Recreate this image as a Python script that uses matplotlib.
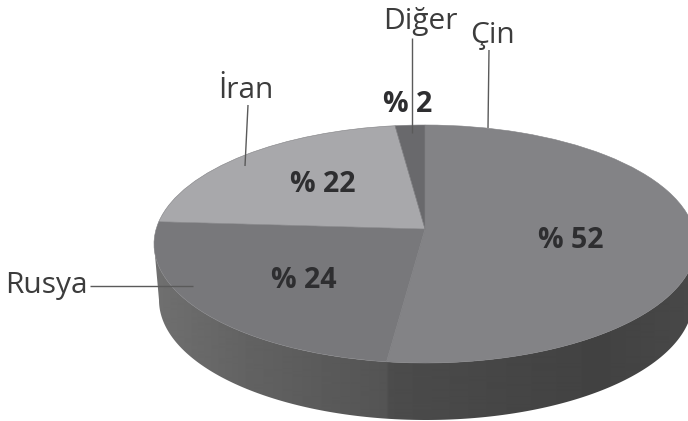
import numpy as np
import matplotlib
matplotlib.use("Agg")
import matplotlib.pyplot as plt
from matplotlib.transforms import Transform, Affine2D
from matplotlib.patches import Polygon

categories = ["Çin", "Rusya", "İran", "Diğer"]
values = [52, 24, 22, 2]
pct_labels = ["% 52", "% 24", "% 22", "% 2"]

top_colors = ["#838386", "#78787b", "#a8a8ab", "#69696c"]
TEXT = "#3c3c3c"
BOLD = "#2e2e30"
LINE = "#5a5a5a"

W, H = 688, 421
cx, cy, rx, ry = 425, 244, 271, 119
bx, by, brx, bry = 426, 300, 267, 120
a = 15 / 119  # perspective shift of the pie centre


class Persp(Transform):
    input_dims = output_dims = 2
    is_affine = False

    def transform_non_affine(self, xy):
        xy = np.asarray(xy, float)
        X, Y = xy[:, 0], xy[:, 1]
        d = 1 + a * Y
        return np.column_stack([X * np.sqrt(1 - a * a) / d, (Y + a) / d])


plt.rcParams["font.family"] = ["Open Sans", "DejaVu Sans"]
fig = plt.figure(figsize=(W / 100, H / 100), dpi=100, facecolor="white")
ax = fig.add_axes([0, 0, 1, 1])

wedges, _ = ax.pie(values, startangle=90, counterclock=False, radius=1,
                   center=(0, 0), colors=top_colors,
                   wedgeprops=dict(linewidth=0.4, edgecolor="#808083"))
ax.set_aspect("auto")
ax.set_xlim(0, W)
ax.set_ylim(H, 0)
ax.axis("off")

base = Affine2D().scale(rx, -ry).translate(cx, cy) + ax.transData
for w in wedges:
    w.set_transform(Persp() + base)
    w.set_zorder(3)

# side wall: horizontal grey gradient clipped to the rim outline
t = np.linspace(np.pi, 0, 200)
upper = np.column_stack([cx + rx * np.cos(t), cy + ry * np.sin(t)])
lower = np.column_stack([bx + brx * np.cos(t[::-1]), by + bry * np.sin(t[::-1])])
rim = Polygon(np.vstack([upper, lower]), closed=True, facecolor="none",
              edgecolor="none", transform=ax.transData)
ax.add_patch(rim)
stops_x = [154, 250, 386, 389, 500, 600, 688]
stops_g = [112, 98, 84, 76, 70, 66, 72]
grad = np.interp(np.arange(W), stops_x, stops_g)[None, :]
im = ax.imshow(grad, extent=(0, W, H, 0), cmap="gray", vmin=0, vmax=255,
               aspect="auto", zorder=2, interpolation="bilinear")
im.set_clip_path(rim)
ax.set_xlim(0, W)
ax.set_ylim(H, 0)

# leader lines
leaders = [([90, 193], [286, 286]), ([248, 245], [105, 166]),
           ([412, 412], [38, 133]), ([489, 488], [50, 128])]
for xs, ys in leaders:
    ax.plot(xs, ys, color=LINE, lw=1.0, zorder=4, solid_capstyle="butt")

# category labels
label_pos = {"Çin": (493, 36), "Rusya": (46, 286), "İran": (246, 90), "Diğer": (420, 22)}
for name in categories:
    x, y = label_pos[name]
    ax.text(x, y, name, ha="center", va="center", fontsize=21.5, color=TEXT, zorder=5)

# percentage labels
pct_pos = [(571, 240), (304, 281), (323, 185), (408, 104)]
for lab, (x, y) in zip(pct_labels, pct_pos):
    ax.text(x, y, lab, ha="center", va="center", fontsize=20.5, fontweight="bold",
            color=BOLD, zorder=5)

fig.savefig("out.png", dpi=100, facecolor="white")
